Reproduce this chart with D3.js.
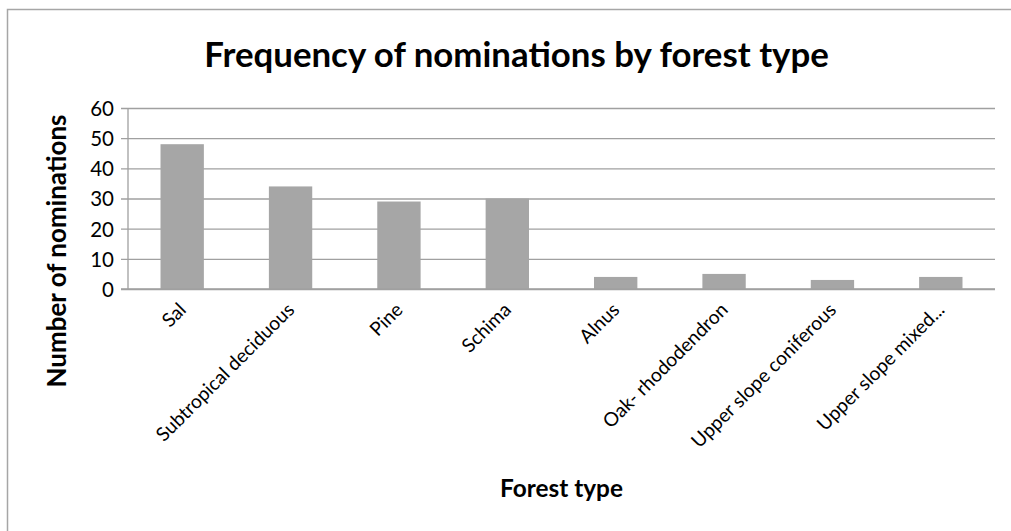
<!DOCTYPE html>
<html>
<head>
<meta charset="utf-8">
<script src="https://cdn.jsdelivr.net/npm/d3@7"></script>
<style>
  html, body { margin: 0; padding: 0; background: #fff; }
  svg { display: block; }
  text { font-family: Lato, "Open Sans", sans-serif; fill: #000; }
</style>
</head>
<body>
<svg id="chart" width="1011" height="531"></svg>
<script>
// Forest types and how often each was nominated
const categories = [
  "Sal",
  "Subtropical deciduous",
  "Pine",
  "Schima",
  "Alnus",
  "Oak- rhododendron",
  "Upper slope coniferous",
  "Upper slope mixed..."
];
const nominations = [48, 34, 29, 30, 4, 5, 3, 4];
const yTicks = [0, 10, 20, 30, 40, 50, 60];

const chartTitle = "Frequency of nominations by forest type";
const xTitle = "Forest type";
const yTitle = "Number of nominations";

const W = 1011, H = 531;
const plot = { left: 128, right: 995, top: 108, bottom: 289 };

const svg = d3.select("#chart");

// scale a text's font size so its rendered width hits a target
function fitWidth(sel, target) {
  const node = sel.node();
  const fs = parseFloat(sel.style("font-size"));
  const w = node.getComputedTextLength();
  const size = fs * target / w;
  sel.style("font-size", size + "px");
  return size;
}

// outer chart frame (continues past the right and bottom edges)
svg.append("rect")
  .attr("x", 7.5).attr("y", 9.5)
  .attr("width", W + 20).attr("height", H + 20)
  .attr("fill", "#fff")
  .attr("stroke", "#a6a6a6")
  .attr("stroke-width", 1.5);

const x = d3.scaleBand()
  .domain(categories)
  .range([plot.left, plot.right])
  .paddingInner(0.6)
  .paddingOuter(0.3);

const y = d3.scaleLinear()
  .domain([0, 60])
  .range([plot.bottom, plot.top]);

// horizontal gridlines with short ticks on the left
const yAxis = d3.axisLeft(y)
  .tickValues(yTicks)
  .tickSize(-(plot.right - plot.left))
  .tickSizeOuter(0)
  .tickPadding(14)
  .tickFormat(d3.format("d"));

const gy = svg.append("g")
  .attr("transform", `translate(${plot.left},0)`)
  .call(yAxis);
gy.select(".domain").remove();
gy.selectAll(".tick line")
  .attr("x1", -7)
  .attr("stroke", "#a0a0a0")
  .attr("stroke-width", 1.3);
gy.selectAll(".tick text")
  .attr("dy", "0.36em")
  .style("font-size", "20.5px")
  .style("font-family", "Lato, sans-serif");

// vertical axis line
svg.append("line")
  .attr("x1", plot.left).attr("x2", plot.left)
  .attr("y1", plot.top).attr("y2", plot.bottom)
  .attr("stroke", "#a0a0a0").attr("stroke-width", 1.3);

// bars
svg.append("g")
  .selectAll("rect")
  .data(categories)
  .join("rect")
  .attr("x", d => x(d))
  .attr("width", x.bandwidth())
  .attr("y", (d, i) => y(nominations[i]))
  .attr("height", (d, i) => y(0) - y(nominations[i]))
  .attr("fill", "#a6a6a6");

// baseline
svg.append("line")
  .attr("x1", plot.left - 7).attr("x2", plot.right)
  .attr("y1", plot.bottom).attr("y2", plot.bottom)
  .attr("stroke", "#a0a0a0").attr("stroke-width", 1.3);

// rotated category labels
const labels = svg.append("g")
  .selectAll("text")
  .data(categories)
  .join("text")
  .attr("text-anchor", "end")
  .attr("transform", d => `translate(${x(d) + x.bandwidth() / 2 + 5},${plot.bottom + 22}) rotate(-45)`)
  .style("font-size", "16px")
  .text(d => d);
// size every label like the longest one
const labelSize = fitWidth(labels.filter(d => d === categories[1]), 186);
labels.style("font-size", labelSize + "px");

// chart title
const t = svg.append("text")
  .attr("x", 516.5).attr("y", 67)
  .attr("text-anchor", "middle")
  .style("font-size", "30px")
  .style("font-weight", "bold")
  .text(chartTitle);
fitWidth(t, 625);

// axis titles
const xt = svg.append("text")
  .attr("x", 561.5).attr("y", 497)
  .attr("text-anchor", "middle")
  .style("font-size", "20px")
  .style("font-weight", "bold")
  .text(xTitle);
fitWidth(xt, 123);

const yt = svg.append("text")
  .attr("transform", "translate(66,251) rotate(-90)")
  .attr("text-anchor", "middle")
  .style("font-size", "20px")
  .style("font-weight", "bold")
  .text(yTitle);
fitWidth(yt, 273);
</script>
</body>
</html>
